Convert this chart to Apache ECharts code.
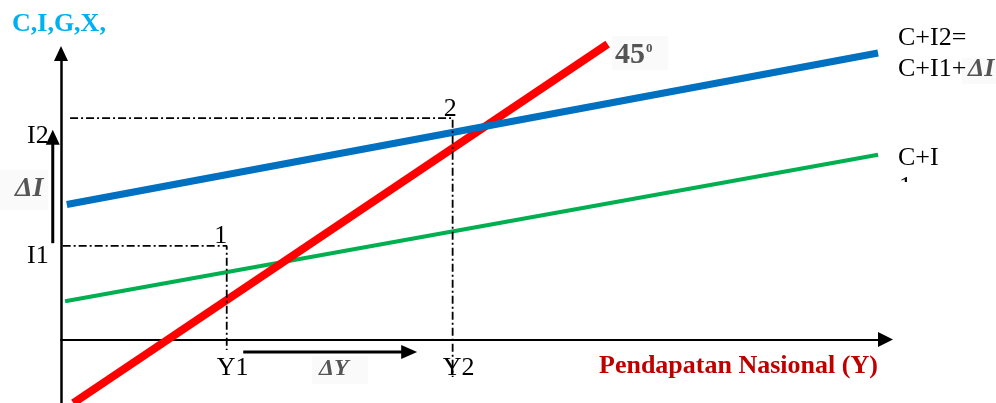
<!DOCTYPE html>
<html>
<head>
<meta charset="utf-8">
<script src="https://cdn.jsdelivr.net/npm/echarts@6/dist/echarts.min.js"></script>
<style>
  html, body { margin: 0; padding: 0; background: #fff; }
  #chart { width: 996px; height: 403px; }
</style>
</head>
<body>
<div id="chart"></div>
<script>
// Keynesian cross: spending lines C+I and C+I2 against the 45° line
const line45 = [[1.5, -11.5], [66.3, 53.4]];
const lineCI1 = [[0.5, 6.9], [99.1, 33.4]];
const lineCI2 = [[0.7, 24.4], [99.1, 51.8]];

// Investment levels (vertical axis) and equilibrium incomes (horizontal axis)
const investLabels = ['I1', 'I2'];
const investLevels = [16.9, 40.0];
const incomeLabels = ['Y1', 'Y2'];
const incomeLevels = [20.1, 47.5];
const pointLabels = ['1', '2'];
const guideStart = [0.2, 1.1];
const guideBottom = [-1.9, -6.8];

// Shift arrows: change in investment and change in income
const deltaI = [[-1.0, 17.4], [-1.0, 37.9]];
const deltaY = [[22.1, -2.3], [43.2, -2.3]];

const SERIF = '"Liberation Serif", "Times New Roman", serif';
const chart = echarts.init(document.getElementById('chart'), null, { renderer: 'canvas' });

const guideSeries = investLevels.map((lv, i) => ({
  type: 'line',
  data: [[guideStart[i], lv], [incomeLevels[i], lv], [incomeLevels[i], guideBottom[i]]],
  symbol: 'none',
  silent: true,
  clip: false,
  z: 6,
  lineStyle: { color: '#000', width: 1.8, type: [8, 3, 2, 3] }
}));

chart.setOption({
  animation: false,
  grid: { left: 61, right: 110.5, top: 53.5, bottom: 0 },
  xAxis: {
    type: 'value', min: 0, max: 100,
    axisLine: { show: true, onZero: true, symbol: ['none', 'triangle'], symbolSize: [15, 15],
                lineStyle: { color: '#000', width: 2 } },
    axisTick: { show: false }, axisLabel: { show: false }, splitLine: { show: false }
  },
  yAxis: {
    type: 'value', min: -11.5, max: 51.7,
    axisLine: { show: true, onZero: true, symbol: ['none', 'triangle'], symbolSize: [14, 15],
                lineStyle: { color: '#000', width: 2.5 } },
    axisTick: { show: false }, axisLabel: { show: false }, splitLine: { show: false }
  },
  series: [
    { name: 'C+I', type: 'line', data: lineCI1, symbol: 'none', clip: false, z: 3,
      lineStyle: { color: '#00B050', width: 4 } },
    { name: '45', type: 'line', data: line45, symbol: 'none', clip: false, z: 4,
      lineStyle: { color: '#FF0000', width: 8 } },
    { name: 'C+I2', type: 'line', data: lineCI2, symbol: 'none', clip: false, z: 5,
      lineStyle: { color: '#0070C0', width: 7 } }
  ].concat(guideSeries)
});

const px = (p) => chart.convertToPixel({ gridIndex: 0 }, p);

// text placed by its alphabetic baseline
function label(str, x, baseline, size, extra) {
  return {
    type: 'text', z: 20, silent: true,
    style: Object.assign({
      text: str, x: x, y: baseline - 0.3375 * size,
      font: `${size}px ${SERIF}`, fill: '#000',
      align: 'left', verticalAlign: 'middle'
    }, extra || {})
  };
}

function arrow(from, to, width, headLen, headW) {
  const a = px(from), b = px(to);
  const dx = b[0] - a[0], dy = b[1] - a[1];
  const len = Math.hypot(dx, dy);
  const ux = dx / len, uy = dy / len;
  const bx = b[0] - ux * headLen, by = b[1] - uy * headLen;
  return [
    { type: 'line', z: 15, silent: true,
      shape: { x1: a[0], y1: a[1], x2: bx + ux, y2: by + uy },
      style: { stroke: '#000', lineWidth: width } },
    { type: 'polygon', z: 15, silent: true,
      shape: { points: [[b[0], b[1]], [bx - uy * headW / 2, by + ux * headW / 2], [bx + uy * headW / 2, by - ux * headW / 2]] },
      style: { fill: '#000' } }
  ];
}

const G = [];
const grey = '#555555';
const softShadow = { shadowColor: 'rgba(0,0,0,0.3)', shadowBlur: 1.5 };

// faint backdrops behind the pasted symbol glyphs, kept beneath every line
[[0, 170, 48, 40], [312, 356, 56, 28], [612, 36, 56, 34], [962, 58, 34, 26]].forEach(r => {
  G.push({ type: 'rect', z: 0, silent: true, shape: { x: r[0], y: r[1], width: r[2], height: r[3] },
           style: { fill: '#fafafa' } });
});

G.push(...arrow(deltaI[0], deltaI[1], 3, 15, 14));
G.push(...arrow(deltaY[0], deltaY[1], 3, 16, 14));

G.push(label('C,I,G,X,', 12, 33, 26, { font: `bold 26px ${SERIF}`, fill: '#00B0F0' }));
G.push(label('Pendapatan Nasional (Y)', 599, 375, 26, { font: `bold 26px ${SERIF}`, fill: '#C00000' }));

const investOffset = [19.5, 27];
investLabels.forEach((t, i) => {
  const p = px([0, investLevels[i]]);
  G.push(label(t, p[0] - 34, p[1] + investOffset[i], 26));
});
incomeLabels.forEach((t, i) => {
  const p = px([incomeLevels[i], 0]);
  G.push(label(t, p[0] - 10, 377, 26));
});
const pointShift = [[-12.5, -0.7], [-9, 0]];
pointLabels.forEach((t, i) => {
  const p = px([incomeLevels[i], investLevels[i]]);
  G.push(label(t, p[0] + pointShift[i][0], p[1] + pointShift[i][1], 26));
});

G.push(label('C+I2=', 898, 47, 26));
G.push(label('C+I1+', 898, 78, 26));
G.push(label('ΔI', 968, 78, 26, Object.assign({ font: `italic bold 26px ${SERIF}`, fill: grey }, softShadow)));
G.push(label('C+I', 898, 167, 26));
G.push(label('1', 899, 196, 26));
G.push({ type: 'rect', z: 21, silent: true, shape: { x: 890, y: 182, width: 40, height: 30 }, style: { fill: '#fff' } });

G.push(label('ΔI', 15, 198, 28, Object.assign({ font: `italic bold 28px ${SERIF}`, fill: grey }, softShadow)));
G.push(label('ΔY', 319, 377, 24, Object.assign({ font: `italic bold 24px ${SERIF}`, fill: grey }, softShadow)));
G.push(label('45', 615, 65, 30, Object.assign({ font: `bold 30px ${SERIF}`, fill: grey }, softShadow)));
G.push(label('0', 646, 53, 13, Object.assign({ font: `bold 13px ${SERIF}`, fill: grey }, softShadow)));

chart.setOption({ graphic: G });
</script>
</body>
</html>
